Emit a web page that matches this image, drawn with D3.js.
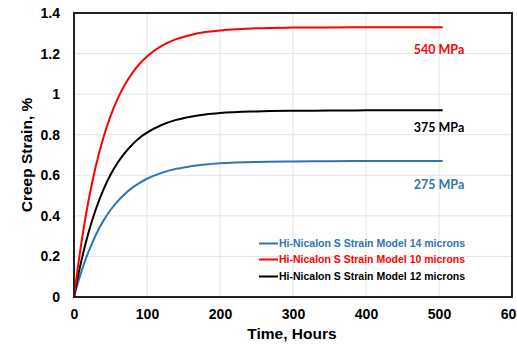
<!DOCTYPE html>
<html><head><meta charset="utf-8">
<script src="https://cdn.jsdelivr.net/npm/d3@7"></script>
<style>
html,body{margin:0;padding:0;background:#fff;}
svg{display:block;}
</style>
</head><body>
<svg id="c" width="517" height="347"></svg>
<script>
const times = [0,5,10,15,20,30,40,50,60,70,80,90,100,120,140,160,180,200,250,300,350,400,450,505];
const strain10 = [0,0.140,0.265,0.377,0.477,0.647,0.783,0.892,0.979,1.049,1.105,1.150,1.186,1.238,1.271,1.292,1.306,1.314,1.325,1.328,1.329,1.330,1.330,1.330];
const strain12 = [0,0.093,0.177,0.251,0.319,0.434,0.527,0.603,0.663,0.712,0.752,0.785,0.810,0.848,0.873,0.889,0.900,0.907,0.915,0.918,0.919,0.920,0.920,0.920];
const strain14 = [0,0.065,0.124,0.177,0.224,0.307,0.374,0.429,0.473,0.509,0.539,0.563,0.583,0.612,0.632,0.644,0.653,0.659,0.666,0.668,0.669,0.670,0.670,0.670];
const xTicks = [0,100,200,300,400,500,600];
const yTicks = [0,0.2,0.4,0.6,0.8,1,1.2,1.4];
const legendLabels = ["Hi-Nicalon S Strain Model 14 microns","Hi-Nicalon S Strain Model 10 microns","Hi-Nicalon S Strain Model 12 microns"];
const stressLabels = ["540 MPa","375 MPa","275 MPa"];
const stressValues = [1.22, 0.835, 0.555];

const colors = {blue:"#2E75B6", red:"#FF0000", black:"#000000"};
const svg = d3.select("#c");
const L=74, T=13, R=512, B=297;
const x = d3.scaleLinear().domain([0,600]).range([L,R]);
const y = d3.scaleLinear().domain([0,1.4]).range([B,T]);

// gridlines
svg.append("g").selectAll("line").data(xTicks.slice(1,-1)).join("line")
  .attr("x1",d=>x(d)).attr("x2",d=>x(d)).attr("y1",T).attr("y2",B)
  .attr("stroke","#e3e3e3").attr("stroke-width",1);
svg.append("g").selectAll("line").data(yTicks.slice(1,-1)).join("line")
  .attr("x1",L).attr("x2",R).attr("y1",d=>y(d)).attr("y2",d=>y(d))
  .attr("stroke","#e3e3e3").attr("stroke-width",1);

// axes (labels only)
const font = "Liberation Sans, Arial, sans-serif";
const xAxis = svg.append("g").attr("transform",`translate(0,${B})`)
  .call(d3.axisBottom(x).tickValues(xTicks).tickSize(0).tickPadding(12).tickFormat(d3.format("d")));
const yAxis = svg.append("g").attr("transform",`translate(${L},0)`)
  .call(d3.axisLeft(y).tickValues(yTicks).tickSize(0).tickPadding(14).tickFormat(d=>String(+d.toFixed(1))));
[xAxis,yAxis].forEach(a=>{
  a.select(".domain").remove();
  a.selectAll("text").attr("font-family",font).attr("font-weight","bold").attr("font-size",14).attr("fill","#000");
});

// lines
const line = d3.line().x((d,i)=>x(times[i])).y(d=>y(d)).curve(d3.curveMonotoneX);
const series = [
  {vals:strain14,color:colors.blue},
  {vals:strain12,color:colors.black},
  {vals:strain10,color:colors.red}
];
svg.append("g").selectAll("path").data(series).join("path")
  .attr("d",d=>line(d.vals)).attr("fill","none").attr("stroke",d=>d.color).attr("stroke-width",2);

// frame
svg.append("rect").attr("x",L).attr("y",T).attr("width",R-L).attr("height",B-T)
  .attr("fill","none").attr("stroke","#222").attr("stroke-width",2);

// stress labels
const sColors=[colors.red,colors.black,colors.blue];
svg.append("g").selectAll("text").data(stressLabels).join("text")
  .attr("x",439).attr("y",(d,i)=>y(stressValues[i])).attr("dy","0.35em")
  .attr("text-anchor","middle").attr("font-family","Lato, Open Sans, sans-serif").attr("font-weight","bold")
  .attr("font-size",12.5).attr("fill",(d,i)=>sColors[i]).text(d=>d);

// legend
const lColors=[colors.blue,colors.red,colors.black];
const lg = svg.append("g");
const ly=[243.5,259.5,276.5];
lg.selectAll("line").data(legendLabels).join("line")
  .attr("x1",259).attr("x2",278).attr("y1",(d,i)=>ly[i]).attr("y2",(d,i)=>ly[i])
  .attr("stroke",(d,i)=>lColors[i]).attr("stroke-width",2);
lg.selectAll("text").data(legendLabels).join("text")
  .attr("x",279).attr("y",(d,i)=>ly[i]).attr("dy","0.35em")
  .attr("font-family",font).attr("font-weight","bold").attr("font-size",10.5)
  .attr("fill",(d,i)=>lColors[i]).text(d=>d);

// axis titles
svg.append("text").attr("x",(L+R)/2 - 1).attr("y",339).attr("text-anchor","middle")
  .attr("font-family",font).attr("font-weight","bold").attr("font-size",15.5).text("Time, Hours");
svg.append("text").attr("transform","translate(32,155) rotate(-90)").attr("text-anchor","middle")
  .attr("font-family",font).attr("font-weight","bold").attr("font-size",15.5).text("Creep Strain, %");
</script>
</body></html>
